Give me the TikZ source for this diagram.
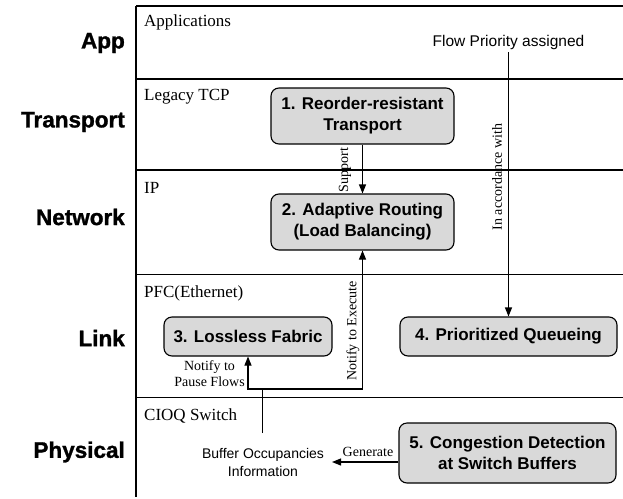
\documentclass[tikz,border=0pt]{standalone}
\usepackage{fontspec}
\setmainfont{Liberation Serif}
\newfontfamily\sansf{Liberation Sans}
\newfontfamily\heavyf{Liberation Sans}[BoldFeatures={FakeBold=1.3}]
\usetikzlibrary{arrows.meta}
\begin{document}
\begin{tikzpicture}[x=1pt,y=-1pt,
  lane/.style={line width=1.2pt},
  layer/.style={font=\heavyf\bfseries\fontsize{22.5}{26}\selectfont, anchor=east, inner sep=0pt},
  proto/.style={font=\fontsize{17}{20}\selectfont, anchor=west, inner sep=0pt},
  fn/.style={draw, line width=1.1pt, rounded corners=8pt, fill=black!15,
    font=\sansf\bfseries\fontsize{17}{21}\selectfont, align=center, inner sep=0pt},
  lbl/.style={font=\fontsize{14}{16}\selectfont, inner sep=0pt},
  info/.style={font=\sansf\fontsize{14}{18}\selectfont, align=center, inner sep=2pt},
  wire/.style={line width=1.1pt},
  conn/.style={wire, -{Triangle[length=9pt,width=7pt]}},
]
\useasboundingbox (0,0) rectangle (623,498);

% lanes
\draw[lane] (136,6) -- (623,6);
\draw[lane] (136,79) -- (623,79);
\draw[lane] (136,170) -- (623,170);
\draw[lane] (136,274.5) -- (623,274.5);
\draw[lane] (136,397.5) -- (623,397.5);
\draw[lane] (136,6) -- (136,497);

% layer labels
\node[layer] (lapp) at (125,43) {App};
\node[layer] (ltra) at (125,122) {Transport};
\node[layer] (lnet) at (125,217) {Network};
\node[layer] (llnk) at (125,338) {Link};
\node[layer] (lphy) at (125,452) {Physical};

% protocol labels
\node[proto] (papp) at (144,22) {Applications};
\node[proto] (ptcp) at (144,97) {Legacy TCP};
\node[proto] (pip) at (144,188) {IP};
\node[proto] (pfc) at (144,293) {PFC(Ethernet)};
\node[proto] (pcioq) at (144,416) {CIOQ Switch};

% function boxes
\node[fn, minimum width=183pt, minimum height=56pt] (b1) at (362.5,116) {1. Reorder-resistant\\Transport};
\node[fn, minimum width=183pt, minimum height=56pt] (b2) at (362.5,222) {2. Adaptive Routing\\(Load Balancing)};
\node[fn, minimum width=168pt, minimum height=39pt] (b3) at (248,336.5) {3. Lossless Fabric};
\node[fn, minimum width=217pt, minimum height=39pt] (b4) at (508.5,336.5) {4. Prioritized Queueing};
\node[fn, minimum width=217pt, minimum height=60pt] (b5) at (507.5,453) {5. Congestion Detection\\at Switch Buffers};

% texts
\node[font=\sansf\fontsize{15.5}{18}\selectfont, inner sep=3pt] (fp) at (508.5,42) {Flow Priority assigned};
\node[info] (buf) at (263,462) {Buffer Occupancies\\Information};

% connectors
\draw[conn] (b1) -- (b2);
\node[lbl, rotate=90] (lsup) at (345,170) {Support};

\draw[conn] (fp.south) -- (b4.north);
\node[lbl, rotate=90] (lacc) at (497,177) {In accordance with};

\coordinate (bt) at (262.5,433);
\coordinate (jn) at (262.5,389);
\draw[wire] (bt) -- (jn);
\draw[conn] (jn) -| (b3.south);
\draw[conn] (jn) -| (b2.south);
\node[lbl, rotate=90] (lexe) at (353,331) {Notify to Execute};
\node[lbl, align=center] (lpau) at (209.5,374) {Notify to\\Pause Flows};

\coordinate (gt) at (332,462);
\draw[conn] (b5.west |- gt) -- (gt);
\node[lbl] (lgen) at (368,452) {Generate};

\end{tikzpicture}
\end{document}
